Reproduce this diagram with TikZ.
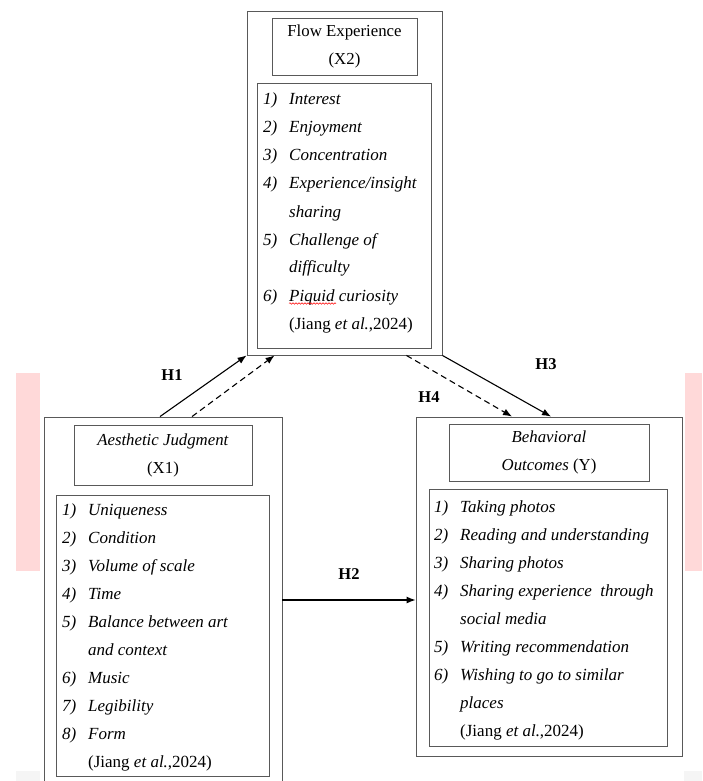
\documentclass[tikz,border=0pt]{standalone}
\usepackage{fontspec}
\setmainfont{Liberation Serif}
\usetikzlibrary{arrows.meta, positioning, decorations.pathmorphing}

\newcommand{\itm}[2]{\makebox[26pt][l]{\textit{#1}}\textit{#2}}
\newcommand{\cont}[1]{\hspace*{26pt}#1}

\tikzset{
  box/.style={draw=black!65, line width=0.9pt, inner sep=0pt},
  titlebox/.style={box, align=center, font=\fontsize{16.8}{28}\selectfont},
  items/.style={inner sep=0pt, anchor=base west, font=\fontsize{17}{28}\selectfont},
  hyp/.style={font=\fontsize{16.5}{20}\selectfont\bfseries},
  link/.style={line width=1.1pt, -{Latex[length=9pt, width=7pt]}},
  dashlink/.style={link, dash pattern=on 6pt off 4pt},
}

\begin{document}
\begin{tikzpicture}[x=1pt, y=-1pt]

\useasboundingbox (0,0) rectangle (702,781);
\clip (0,0) rectangle (702,781);

% background marks
\fill[red!15] (16,373) rectangle (40,571);
\fill[red!15] (685,373) rectangle (702,571);
\fill[black!4] (16,771) rectangle (40,781);
\fill[black!4] (684,771) rectangle (702,781);

% Flow Experience (X2)
\node[box, minimum width=195pt, minimum height=344pt] (fe) at (344.5,183) {};
\node[titlebox, minimum width=145pt, minimum height=57pt] (fetitle) at (344.5,46.5)
  {Flow Experience\\(X2)};
\node[box, minimum width=174pt, minimum height=265pt] (felist) at (344,215.5) {};
\node[items] (fetxt) at (263,105) {\begin{tabular}[t]{@{}l@{}}
  \itm{1)}{Interest}\\
  \itm{2)}{Enjoyment}\\
  \itm{3)}{Concentration}\\
  \itm{4)}{Experience/insight}\\
  \cont{\textit{sharing}}\\
  \itm{5)}{Challenge of}\\
  \cont{\textit{difficulty}}\\
  \itm{6)}{Piquid curiosity}\\
  \cont{(Jiang \textit{et al.},2024)}
\end{tabular}};
\draw[red, line width=0.5pt, decorate,
  decoration={snake, amplitude=0.8pt, segment length=3pt}] (289,303.5) -- (336,303.5);

% Aesthetic Judgment (X1)
\node[box, minimum width=238pt, minimum height=380pt] (aj) at (163,607) {};
\node[titlebox, minimum width=178pt, minimum height=60pt] (ajtitle) at (163,455)
  {\textit{Aesthetic Judgment}\\(X1)};
\node[box, minimum width=213pt, minimum height=281pt] (ajlist) at (162.5,635.5) {};
\node[items] (ajtxt) at (62,515) {\begin{tabular}[t]{@{}l@{}}
  \itm{1)}{Uniqueness}\\
  \itm{2)}{Condition}\\
  \itm{3)}{Volume of scale}\\
  \itm{4)}{Time}\\
  \itm{5)}{Balance between art}\\
  \cont{\textit{and context}}\\
  \itm{6)}{Music}\\
  \itm{7)}{Legibility}\\
  \itm{8)}{Form}\\
  \cont{(Jiang \textit{et al.},2024)}
\end{tabular}};

% Behavioral Outcomes (Y)
\node[box, minimum width=266pt, minimum height=339pt] (bo) at (549,586.5) {};
\node[titlebox, minimum width=200pt, minimum height=57pt] (botitle) at (549,452.5)
  {\textit{Behavioral}\\\textit{Outcomes} (Y)};
\node[box, minimum width=238pt, minimum height=257pt] (bolist) at (548,617.5) {};
\node[items] (botxt) at (434,512) {\begin{tabular}[t]{@{}l@{}}
  \itm{1)}{Taking photos}\\
  \itm{2)}{Reading and understanding}\\
  \itm{3)}{Sharing photos}\\
  \itm{4)}{Sharing experience\ \ through}\\
  \cont{\textit{social media}}\\
  \itm{5)}{Writing recommendation}\\
  \itm{6)}{Wishing to go to similar}\\
  \cont{\textit{places}}\\
  \cont{(Jiang \textit{et al.},2024)}
\end{tabular}};

% hypotheses
\coordinate (h2) at (0,600);
\draw[link] ([xshift=-3pt]aj.north) -- (fe.south west);
\draw[dashlink] ([xshift=29pt]aj.north) -- ([xshift=28pt]fe.south west);
\draw[link] (fe.south east) -- ([xshift=2pt]bo.north);
\draw[dashlink] ([xshift=-36pt]fe.south east) -- ([xshift=-37pt]bo.north);
\draw[link] (aj.east |- h2) -- (bo.west |- h2);

\node[hyp] (h1lbl) at (172,375) {H1};
\node[hyp] (h2lbl) at (349,574) {H2};
\node[hyp] (h3lbl) at (546,364) {H3};
\node[hyp] (h4lbl) at (429,397) {H4};

\end{tikzpicture}
\end{document}
